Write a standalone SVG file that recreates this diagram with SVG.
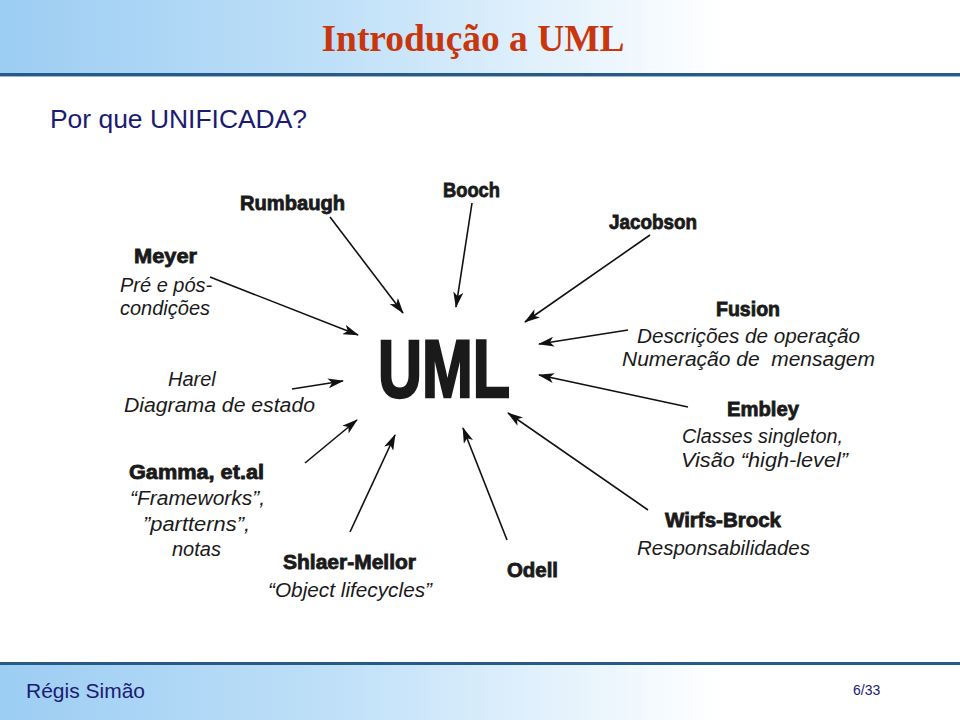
<svg xmlns="http://www.w3.org/2000/svg" width="960" height="720" viewBox="0 0 960 720">
<defs>
<linearGradient id="band" x1="0" y1="0" x2="1" y2="0">
<stop offset="0" stop-color="#9ccdf3"/>
<stop offset="0.35" stop-color="#bfe0f8"/>
<stop offset="0.75" stop-color="#ffffff"/>
<stop offset="1" stop-color="#ffffff"/>
</linearGradient>
<marker id="ah" viewBox="0 0 16 10" refX="15" refY="5" markerWidth="16" markerHeight="10" markerUnits="userSpaceOnUse" orient="auto">
<path d="M0,0 L16,5 L0,10 L4,5 Z" fill="#111"/>
</marker>
<style>
.name{font-family:"Liberation Sans","DejaVu Sans",sans-serif;font-weight:bold;font-size:20px;fill:#1a1a1a;stroke:#1a1a1a;stroke-width:0.8}
.desc{font-family:"Liberation Sans","DejaVu Sans",sans-serif;font-style:italic;font-size:20px;fill:#1a1a1a}
.conn line{stroke:#111;stroke-width:1.6;marker-end:url(#ah)}
</style>
</defs>
<rect x="0" y="0" width="960" height="720" fill="#ffffff"/>
<rect x="0" y="0" width="960" height="73" fill="url(#band)"/>
<rect x="0" y="73" width="960" height="3" fill="#285a88"/>
<rect x="0" y="76" width="960" height="1" fill="#9ab6cf"/>
<rect x="0" y="662" width="960" height="3" fill="#285a88"/>
<rect x="0" y="665" width="960" height="55" fill="url(#band)"/>
<text x="473" y="51" text-anchor="middle" font-family="Liberation Serif, serif" font-weight="bold" font-size="38" fill="#c8360e" textLength="303" lengthAdjust="spacingAndGlyphs">Introdução a UML</text>
<text x="50" y="128" font-family="Liberation Sans, sans-serif" font-size="26" fill="#1b1b72" textLength="257" lengthAdjust="spacingAndGlyphs">Por que UNIFICADA?</text>
<text x="26" y="698" font-family="Liberation Sans, sans-serif" font-size="21" fill="#1b1b72">Régis Simão</text>
<text x="853" y="695" font-family="Liberation Sans, sans-serif" font-size="14" fill="#1b1b72">6/33</text>

<g id="uml"><text x="378" y="397" font-family="Liberation Sans, sans-serif" font-weight="bold" font-size="82" fill="#1a1a1a" stroke="#1a1a1a" stroke-width="2.5" textLength="132" lengthAdjust="spacingAndGlyphs">UML</text></g>
<g id="rumbaugh"><text class="name" x="240" y="210" textLength="105" lengthAdjust="spacingAndGlyphs">Rumbaugh</text></g>
<g id="booch"><text class="name" x="443" y="197" textLength="57" lengthAdjust="spacingAndGlyphs">Booch</text></g>
<g id="jacobson"><text class="name" x="609" y="229" textLength="88" lengthAdjust="spacingAndGlyphs">Jacobson</text></g>
<g id="meyer"><text class="name" x="134" y="263" textLength="63" lengthAdjust="spacingAndGlyphs">Meyer</text>
<text class="desc" x="120" y="292">Pré e pós-</text>
<text class="desc" x="120" y="315">condições</text></g>
<g id="fusion"><text class="name" x="716" y="316" textLength="64" lengthAdjust="spacingAndGlyphs">Fusion</text>
<text class="desc" x="637" y="343" textLength="223" lengthAdjust="spacingAndGlyphs">Descrições de operação</text>
<text class="desc" x="622" y="366" textLength="253" lengthAdjust="spacingAndGlyphs" xml:space="preserve">Numeração de  mensagem</text></g>
<g id="harel"><text class="desc" x="168" y="386">Harel</text>
<text class="desc" x="124" y="412" textLength="191" lengthAdjust="spacingAndGlyphs">Diagrama de estado</text></g>
<g id="embley"><text class="name" x="727" y="416" textLength="72" lengthAdjust="spacingAndGlyphs">Embley</text>
<text class="desc" x="682" y="443" textLength="161" lengthAdjust="spacingAndGlyphs">Classes singleton,</text>
<text class="desc" x="681" y="467" textLength="167" lengthAdjust="spacingAndGlyphs">Visão “high-level”</text></g>
<g id="gamma"><text class="name" x="129" y="479" textLength="135" lengthAdjust="spacingAndGlyphs">Gamma, et.al</text>
<text class="desc" x="130" y="505" textLength="135" lengthAdjust="spacingAndGlyphs">“Frameworks”,</text>
<text class="desc" x="143" y="531" textLength="107" lengthAdjust="spacingAndGlyphs">”partterns”,</text>
<text class="desc" x="172" y="556">notas</text></g>
<g id="wirfs-brock"><text class="name" x="665" y="527" textLength="116" lengthAdjust="spacingAndGlyphs">Wirfs-Brock</text>
<text class="desc" x="637" y="555" textLength="173" lengthAdjust="spacingAndGlyphs">Responsabilidades</text></g>
<g id="shlaer-mellor"><text class="name" x="283" y="569" textLength="133" lengthAdjust="spacingAndGlyphs">Shlaer-Mellor</text>
<text class="desc" x="268" y="597" textLength="164" lengthAdjust="spacingAndGlyphs">“Object lifecycles”</text></g>
<g id="odell"><text class="name" x="507" y="577" textLength="51" lengthAdjust="spacingAndGlyphs">Odell</text></g>

<g class="conn" id="connectors">
<line x1="330" y1="217" x2="403" y2="313"/>
<line x1="472" y1="203" x2="456" y2="307"/>
<line x1="650" y1="235" x2="525" y2="322"/>
<line x1="210" y1="277" x2="358" y2="335"/>
<line x1="628" y1="330" x2="539" y2="344"/>
<line x1="688" y1="407" x2="539" y2="375"/>
<line x1="292" y1="389" x2="343" y2="381"/>
<line x1="648" y1="510" x2="508" y2="413"/>
<line x1="305" y1="463" x2="357" y2="420"/>
<line x1="350" y1="532" x2="395" y2="435"/>
<line x1="507" y1="540" x2="463" y2="428"/>
</g>
</svg>
